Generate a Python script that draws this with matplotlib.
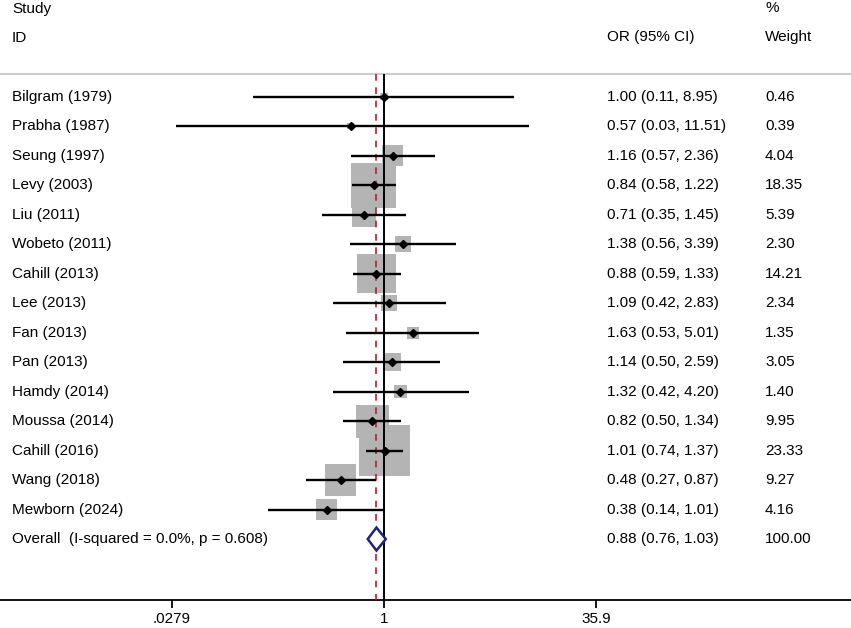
import numpy as np
import matplotlib
matplotlib.use("Agg")
import matplotlib.pyplot as plt
from matplotlib.patches import Rectangle, Polygon
import matplotlib.transforms as mtrans

plt.rcParams['font.family'] = ['Liberation Sans', 'DejaVu Sans']

studies = ["Bilgram (1979)", "Prabha (1987)", "Seung (1997)", "Levy (2003)", "Liu (2011)",
           "Wobeto (2011)", "Cahill (2013)", "Lee (2013)", "Fan (2013)", "Pan (2013)",
           "Hamdy (2014)", "Moussa (2014)", "Cahill (2016)", "Wang (2018)", "Mewborn (2024)"]
or_est = [1.00, 0.57, 1.16, 0.84, 0.71, 1.38, 0.88, 1.09, 1.63, 1.14, 1.32, 0.82, 1.01, 0.48, 0.38]
ci_low = [0.11, 0.03, 0.57, 0.58, 0.35, 0.56, 0.59, 0.42, 0.53, 0.50, 0.42, 0.50, 0.74, 0.27, 0.14]
ci_high = [8.95, 11.51, 2.36, 1.22, 1.45, 3.39, 1.33, 2.83, 5.01, 2.59, 4.20, 1.34, 1.37, 0.87, 1.01]
weights = [0.46, 0.39, 4.04, 18.35, 5.39, 2.30, 14.21, 2.34, 1.35, 3.05, 1.40, 9.95, 23.33, 9.27, 4.16]
overall_label = "Overall  (I-squared = 0.0%, p = 0.608)"
overall = (0.88, 0.76, 1.03)
overall_weight = 100.00
xticks = [0.0279, 1, 35.9]
xticklabels = [".0279", "1", "35.9"]

W, H = 851, 628
fig = plt.figure(figsize=(W / 100, H / 100), dpi=100)
axis_y = 600
ax = fig.add_axes([0, (H - axis_y) / H, 1, axis_y / H])
ax.set_xscale('log')
ppu = 59.22
x1 = 384
ax.set_xlim(np.exp(-x1 / ppu), np.exp((W - x1) / ppu))
ax.set_ylim(axis_y, 0)

fs = 11

for s in ['top', 'left', 'right']:
    ax.spines[s].set_visible(False)
ax.spines['bottom'].set_linewidth(1.3)
ax.set_yticks([])
ax.set_xticks(xticks)
ax.set_xticklabels(xticklabels, fontsize=fs)
ax.minorticks_off()
ax.tick_params(axis='x', direction='out', length=6, width=1.3, pad=2.5)

row0 = 96.7
dy = 29.49
top_line = 74
ys = [row0 + i * dy for i in range(len(studies))]
y_over = row0 + len(studies) * dy

tr = mtrans.blended_transform_factory(fig.transFigure, ax.transData)
def col(px):
    return px / W

# headers
ax.text(col(12), 8.5, "Study", transform=tr, fontsize=fs, va='center', ha='left')
ax.text(col(12), 37.5, "ID", transform=tr, fontsize=fs, va='center', ha='left')
ax.text(col(607), 37.5, "OR (95% CI)", transform=tr, fontsize=fs, va='center', ha='left')
ax.text(col(765), 8.5, "%", transform=tr, fontsize=fs, va='center', ha='left')
ax.text(col(765), 37.5, "Weight", transform=tr, fontsize=fs, va='center', ha='left')

ax.axhline(top_line, color='#c8c8c8', lw=1.3, zorder=1)

# vertical lines
ax.vlines(1, top_line, axis_y, color='black', lw=1.4, zorder=4)
ax.vlines(overall[0], top_line, axis_y, color='#b22030', lw=1.2,
          linestyles=(0, (4, 4)), zorder=5)

# boxes (area proportional to weight)
box_k = 10.43  # px per sqrt(weight)
for e, w, y in zip(or_est, weights, ys):
    side = box_k * np.sqrt(w)
    le = np.log(e)
    x0 = np.exp(le - side / 2 / ppu)
    xr = np.exp(le + side / 2 / ppu)
    ax.add_patch(Rectangle((x0, y - side / 2), xr - x0, side, facecolor='#b4b4b4',
                           edgecolor='none', zorder=3))

for e, lo, hi, y in zip(or_est, ci_low, ci_high, ys):
    ax.plot([lo, hi], [y, y], color='black', lw=1.7, zorder=6, solid_capstyle='butt')
    ax.plot([e], [y], marker='D', color='black', markersize=4.5, zorder=7)

# overall diamond
oe, ol, oh = overall
ax.add_patch(Polygon([(ol, y_over), (oe, y_over - 11.5), (oh, y_over), (oe, y_over + 11.5)],
                     closed=True, facecolor='white', edgecolor='#1a237e', lw=1.8, zorder=8))

# text columns
for name, e, lo, hi, w, y in zip(studies, or_est, ci_low, ci_high, weights, ys):
    ax.text(col(12), y, name, transform=tr, fontsize=fs, va='center', ha='left')
    ax.text(col(607), y, f"{e:.2f} ({lo:.2f}, {hi:.2f})", transform=tr, fontsize=fs, va='center', ha='left')
    ax.text(col(765), y, f"{w:.2f}", transform=tr, fontsize=fs, va='center', ha='left')
ax.text(col(12), y_over, overall_label, transform=tr, fontsize=fs, va='center', ha='left')
ax.text(col(607), y_over, f"{oe:.2f} ({ol:.2f}, {oh:.2f})", transform=tr, fontsize=fs, va='center', ha='left')
ax.text(col(765), y_over, f"{overall_weight:.2f}", transform=tr, fontsize=fs, va='center', ha='left')

fig.savefig("out.png", dpi=100)
